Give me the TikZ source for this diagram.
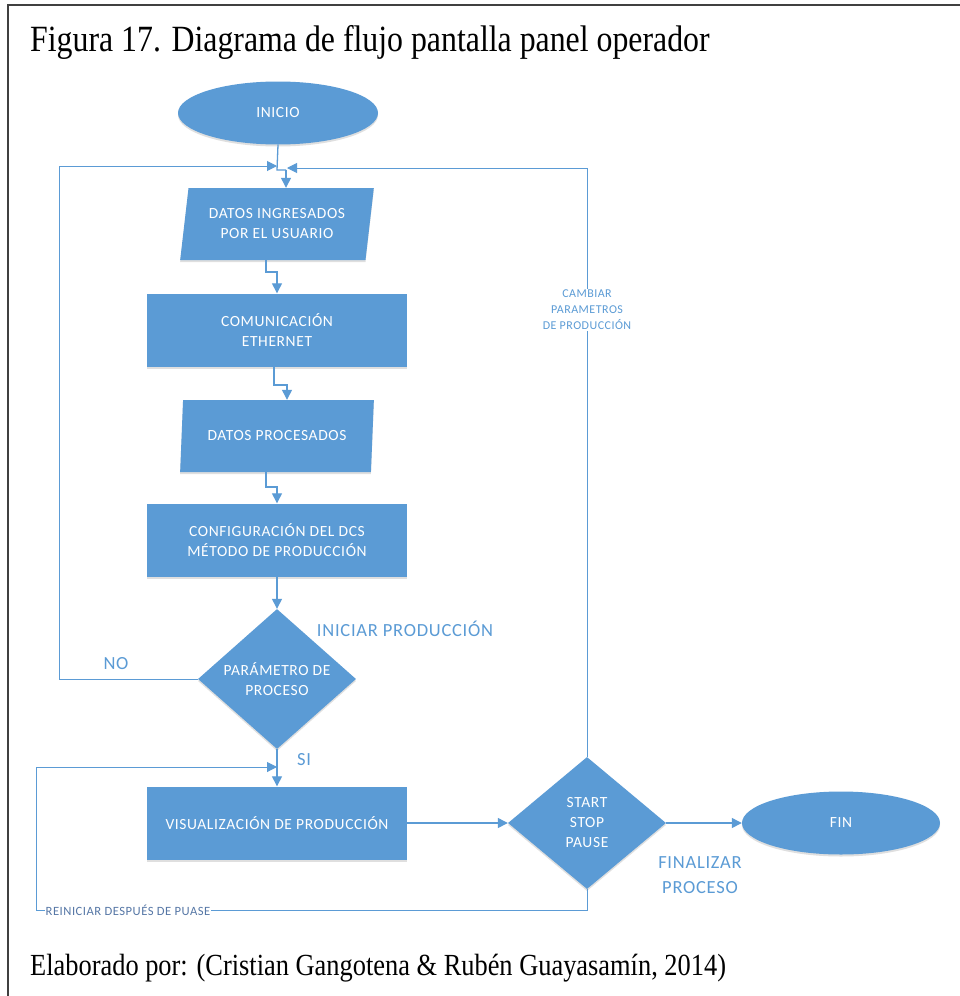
\documentclass[tikz,border=0pt]{standalone}
\usepackage{fontspec}
\setmainfont{Liberation Serif}
\newfontfamily\capfont[FakeStretch=0.86]{Liberation Serif}
\newfontfamily\flowfont[LetterSpace=4]{Carlito}
\usetikzlibrary{shapes.geometric,arrows.meta,shadows}
\definecolor{flow}{HTML}{5B9BD5}
\definecolor{labelblue}{HTML}{5B9BD5}
\definecolor{notecol}{HTML}{5677A6}

\begin{document}
\begin{tikzpicture}[x=1pt,y=-1pt,
  base/.style={fill=flow, text=white, font=\flowfont\fontsize{15.5}{20}\selectfont,
    align=center, inner sep=0pt,
    drop shadow={shadow xshift=0pt,shadow yshift=-2pt,opacity=.25}},
  terminal/.style={base, ellipse, minimum width=200pt, minimum height=63pt},
  process/.style={base, rectangle, minimum width=260pt, minimum height=73pt},
  io/.style={base, trapezium, trapezium left angle=78, trapezium right angle=102,
    trapezium stretches=true, minimum width=194pt, minimum height=72pt},
  decision/.style={base, diamond, minimum width=158pt, minimum height=132pt},
  flowline/.style={draw=flow, line width=1.3pt},
  arr/.style={flowline, -{Triangle[length=10pt,width=10pt]}},
  loopline/.style={line width=1pt},
  tag/.style={text=labelblue, font=\flowfont\fontsize{18.5}{25}\selectfont,
    inner sep=0pt, align=center},
  note/.style={text=labelblue, fill=white, font=\flowfont\fontsize{12}{16}\selectfont,
    inner sep=1pt, align=center}
]
\useasboundingbox (0,0) rectangle (959,996);
\fill[white] (0,0) rectangle (959,996);

% page frame
\draw[line width=2pt, black!75] (8,1000) -- (8,5) -- (965,5);

% caption and credit
\node[anchor=base west, inner sep=0pt, font=\capfont\fontsize{37}{40}\selectfont]
  (title) at (30,51) {Figura 17. Diagrama de flujo pantalla panel operador};
\node[anchor=base west, inner sep=0pt, font=\capfont\fontsize{30.7}{34}\selectfont]
  (credit) at (30,975) {Elaborado por: (Cristian Gangotena \& Rubén Guayasamín, 2014)};

% flowchart blocks
\node[terminal] (inicio) at (278,113) {INICIO};
\node[io] (datos) at (277,224) {DATOS INGRESADOS\\POR EL USUARIO};
\node[process] (ether) at (277,330) {COMUNICACIÓN\\ETHERNET};
\node[io] (proc) at (277,436) {DATOS PROCESADOS};
\node[process] (dcs) at (277,540) {CONFIGURACIÓN DEL DCS\\MÉTODO DE PRODUCCIÓN};
\node[decision] (param) at (277,679) {PARÁMETRO DE\\PROCESO};
\node[process] (visual) at (277,823) {VISUALIZACIÓN DE PRODUCCIÓN};
\node[decision] (ssp) at (587,823) {START\\STOP\\PAUSE};
\node[terminal, minimum width=198pt] (fin) at (841,823) {FIN};

% junction under INICIO
\coordinate (m1) at (277,170);
\coordinate (m2) at (286,170);
\draw[flowline] (inicio.south) -- (m1) -- (m2);
\draw[arr] (m2) -- (datos.north -| m2);

% loop back when parameters are rejected
\coordinate (lt) at (59,166);
\coordinate (ljoin) at (277,166);
\draw[arr, loopline] (param.west) -| (lt) -- (ljoin);

% loop back to change production parameters
\coordinate (rt) at (587,168);
\coordinate (rjoin) at (287,168);
\draw[arr, loopline] (ssp.north) -- (rt) -- (rjoin);
\node[note] (cambiar) at (587,310) {CAMBIAR\\PARAMETROS\\DE PRODUCCIÓN};

% stepped connectors between the upper blocks
\coordinate (k1) at (266,272);
\draw[arr] (datos.south -| k1) |- (k1 -| ether.north) -- (ether.north);
\coordinate (k2a) at (274,385);
\coordinate (k2b) at (287,385);
\draw[arr] (ether.south -| k2a) -- (k2a) -- (k2b) -- (proc.north -| k2b);
\coordinate (k3) at (266,487);
\draw[arr] (proc.south -| k3) |- (k3 -| dcs.north) -- (dcs.north);

\draw[arr] (dcs.south) -- (param.north);
\draw[arr] (param.south) -- (visual.north);
\draw[arr] (visual.east) -- (ssp.west);
\draw[arr] (ssp.east) -- (fin.west);

% restart loop after a pause
\coordinate (bb) at (36,910);
\coordinate (bt) at (36,767);
\coordinate (vj) at (277,767);
\draw[arr, loopline] (ssp.south) |- (bb) -- (bt) -- (vj);
\node[note, text=notecol, anchor=west, inner sep=0.5pt,
  font=\flowfont\fontsize{12.6}{16}\selectfont] (reiniciar) at (45,910)
  {REINICIAR DESPUÉS DE PUASE};

% branch labels
\node[tag] (iniciar) at (405,629) {INICIAR PRODUCCIÓN};
\node[tag] (no) at (116,664) {NO};
\node[tag] (si) at (304,760) {SI};
\node[tag] (finalizar) at (700,875) {FINALIZAR\\PROCESO};
\end{tikzpicture}
\end{document}
